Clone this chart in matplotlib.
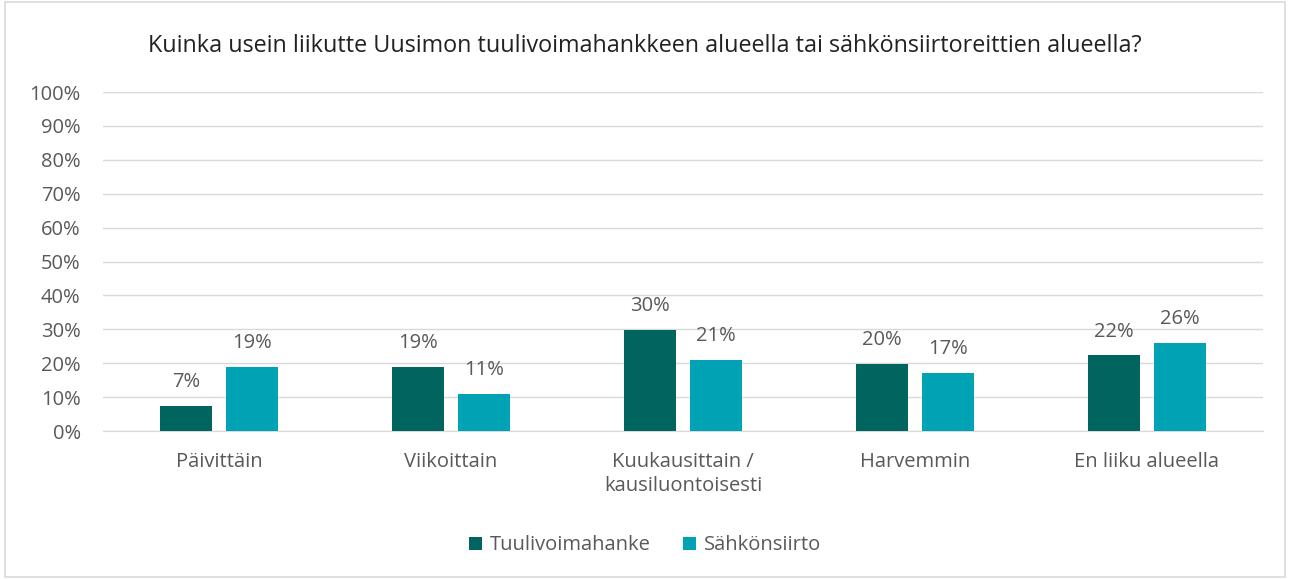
import numpy as np
import matplotlib.pyplot as plt
from matplotlib.patches import Rectangle

categories = ['Päivittäin', 'Viikoittain', 'Kuukausittain /\nkausiluontoisesti', 'Harvemmin', 'En liiku alueella']
tuulivoima = [0.074, 0.19, 0.297, 0.199, 0.223]
sahkonsiirto = [0.19, 0.11, 0.21, 0.17, 0.26]
tuulivoima_labels = ['7%', '19%', '30%', '20%', '22%']
sahkonsiirto_labels = ['19%', '11%', '21%', '17%', '26%']
series_names = ['Tuulivoimahanke', 'Sähkönsiirto']
title = 'Kuinka usein liikutte Uusimon tuulivoimahankkeen alueella tai sähkönsiirtoreittien alueella?'

dark = '#00655F'
light = '#00A2B3'
grey = '#595959'

plt.rcParams['font.family'] = ['Open Sans', 'DejaVu Sans']

fig = plt.figure(figsize=(12.9, 5.79), dpi=100)
ax = fig.add_axes([0.0798, 0.2556, 0.8992, 0.5855])

# light frame round the whole chart
fig.patches.append(Rectangle((0.004, 0.004), 0.992, 0.992, transform=fig.transFigure,
                             fill=False, edgecolor='#D9D9D9', linewidth=1.2))

x = np.arange(len(categories))
w = 0.224
off = 0.142
b1 = ax.bar(x - off, tuulivoima, w, color=dark, label=series_names[0], zorder=3)
b2 = ax.bar(x + off, sahkonsiirto, w, color=light, label=series_names[1], zorder=3)

for bars, labels in ((b1, tuulivoima_labels), (b2, sahkonsiirto_labels)):
    for bar, lab in zip(bars, labels):
        ax.annotate(lab, (bar.get_x() + bar.get_width() / 2, bar.get_height()),
                    xytext=(0, 10), textcoords='offset points', ha='center', va='bottom',
                    fontsize=14.5, color=grey)

ax.set_xlim(-0.5, len(categories) - 0.5)
ax.set_ylim(0, 1)
ax.set_yticks(np.arange(0, 1.01, 0.1))
ax.set_yticklabels([f'{int(round(v * 100))}%' for v in np.arange(0, 1.01, 0.1)])
ax.set_xticks(x)
ax.set_xticklabels(categories, linespacing=1.3)
ax.tick_params(axis='both', length=0, labelsize=14.5, labelcolor=grey)
ax.tick_params(axis='x', pad=15)
ax.tick_params(axis='y', pad=16)
ax.yaxis.grid(True, color='#D9D9D9', linewidth=1, zorder=0)
for s in ('top', 'right', 'left'):
    ax.spines[s].set_visible(False)
ax.spines['bottom'].set_color('#D9D9D9')

fig.text(0.5, 0.92, title, ha='center', va='center', fontsize=16.8, color='#222222')

fig.legend(loc='center', bbox_to_anchor=(0.5, 0.058), ncol=2, frameon=False,
           fontsize=14.5, labelcolor=grey, handlelength=0.65, handleheight=0.65,
           handletextpad=0.4, columnspacing=1.6)

fig.savefig('out.png', dpi=100)
